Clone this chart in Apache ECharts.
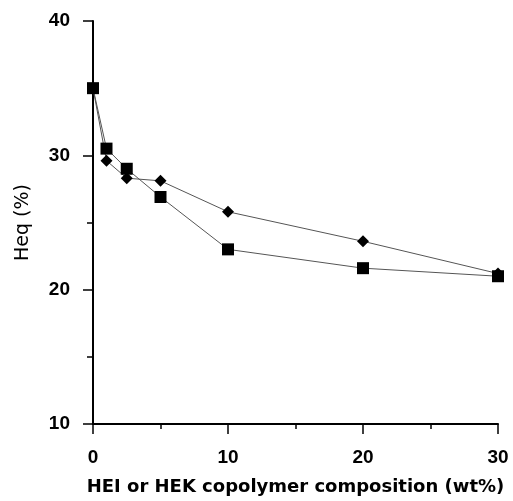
<!DOCTYPE html>
<html><head><meta charset="utf-8">
<script src="https://cdn.jsdelivr.net/npm/echarts@6/dist/echarts.min.js"></script>
<style>html,body{margin:0;padding:0;background:#fff}#c{width:513px;height:501px}</style>
</head><body><div id="c"></div>
<script>
var xValues = [0, 1, 2.5, 5, 10, 20, 30];
var heiValues = [35.0, 29.6, 28.3, 28.1, 25.8, 23.6, 21.2];
var hekValues = [35.0, 30.5, 29.0, 26.9, 23.0, 21.6, 21.0];
var xTicks = [0, 10, 20, 30];
var yTicks = [10, 20, 30, 40];

function pairs(xs, ys) { return xs.map(function (x, i) { return [x, ys[i]]; }); }

var font = 'Liberation Sans';
var wide = 'DejaVu Sans';
var chart = echarts.init(document.getElementById('c'));
chart.setOption({
  animation: false,
  grid: { left: 93, right: 15, top: 21, bottom: 72 },
  xAxis: {
    type: 'value', min: xTicks[0], max: xTicks[xTicks.length - 1], interval: 10,
    name: 'HEI or HEK copolymer composition (wt%)', nameLocation: 'middle', nameGap: 54,
    nameTextStyle: { fontFamily: wide, fontSize: 18, fontWeight: 'bold', color: '#000' },
    axisLine: { lineStyle: { color: '#000', width: 2 } },
    axisTick: { length: 10, lineStyle: { color: '#000', width: 1.5 } },
    minorTick: { show: true, splitNumber: 2, length: 5, lineStyle: { color: '#000', width: 1.5 } },
    splitLine: { show: false },
    axisLabel: { margin: 24, fontFamily: font, fontSize: 19, fontWeight: 'bold', color: '#000' }
  },
  yAxis: {
    type: 'value', min: yTicks[0], max: yTicks[yTicks.length - 1], interval: 10,
    name: 'Heq (%)', nameLocation: 'middle', nameGap: 60, nameRotate: 90,
    nameTextStyle: { fontFamily: wide, fontSize: 19, color: '#000' },
    axisLine: { show: true, lineStyle: { color: '#000', width: 2 } },
    axisTick: { show: true, length: 10, lineStyle: { color: '#000', width: 1.5 } },
    minorTick: { show: true, splitNumber: 2, length: 6, lineStyle: { color: '#000', width: 1.5 } },
    splitLine: { show: false },
    axisLabel: { margin: 23, fontFamily: font, fontSize: 19, fontWeight: 'bold', color: '#000' }
  },
  series: [
    {
      name: 'HEI', type: 'line', data: pairs(xValues, heiValues),
      symbol: 'diamond', symbolSize: 12, showAllSymbol: true,
      lineStyle: { color: '#555', width: 1 }, itemStyle: { color: '#000' }, z: 2
    },
    {
      name: 'HEK', type: 'line', data: pairs(xValues, hekValues),
      symbol: 'rect', symbolSize: 12, showAllSymbol: true,
      lineStyle: { color: '#555', width: 1 }, itemStyle: { color: '#000' }, z: 3
    }
  ]
});
</script></body></html>
